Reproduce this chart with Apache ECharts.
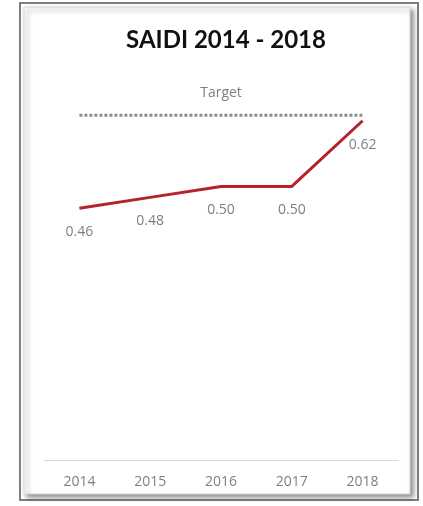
<!DOCTYPE html>
<html>
<head>
<meta charset="utf-8">
<script src="https://cdn.jsdelivr.net/npm/echarts@6/dist/echarts.min.js"></script>
<style>
  html, body { margin: 0; padding: 0; background: #fff; }
  #main { width: 423px; height: 506px; }
</style>
</head>
<body>
<div id="main"></div>
<script>
  const years = ["2014", "2015", "2016", "2017", "2018"];
  const saidi = [0.46, 0.48, 0.5, 0.5, 0.62];
  const target = [0.63, 0.63, 0.63, 0.63, 0.63];

  const myChart = echarts.init(document.getElementById("main"));
  myChart.setOption({
    animation: false,
    title: {
      text: "SAIDI 2014 - 2018",
      left: 221,
      textAlign: "center",
      top: 23,
      textStyle: { fontFamily: "Lato", fontWeight: "bold", fontSize: 24, color: "#111" },
    },
    graphic: [
      {
        type: "rect",
        z: -10,
        shape: { x: 20, y: 3, width: 398, height: 497 },
        style: { fill: "#fff", stroke: "#7f7f7f", lineWidth: 2 },
      },
      {
        type: "rect",
        z: -9,
        shape: { x: 24, y: 7, width: 386, height: 487 },
        style: {
          fill: "#fff",
          stroke: "#d6d6d6",
          lineWidth: 1,
          shadowBlur: 5,
          shadowColor: "rgba(0,0,0,0.45)",
          shadowOffsetX: 3,
          shadowOffsetY: 3,
        },
      },
    ],
    grid: { left: 44, right: 25, top: 77, bottom: 46 },
    xAxis: {
      type: "category",
      data: years,
      boundaryGap: true,
      axisLine: { lineStyle: { color: "#d9d9d9", width: 1 } },
      axisTick: { show: false },
      axisLabel: { color: "#7f7f7f", fontSize: 14, fontFamily: "Open Sans", margin: 15 },
    },
    yAxis: {
      type: "value",
      min: 0,
      max: 0.7,
      show: false,
      splitLine: { show: false },
    },
    series: [
      {
        type: "line",
        name: "Target",
        data: target,
        symbol: "circle",
        symbolSize: 0,
        showSymbol: true,
        lineStyle: { color: "#8c8c8c", width: 3, type: [3, 2] },
        label: {
          show: true,
          position: "top",
          distance: 15,
          color: "#7f7f7f",
          fontSize: 14,
          fontFamily: "Open Sans",
          formatter: (p) => (p.dataIndex === 2 ? "Target" : ""),
        },
      },
      {
        type: "line",
        name: "SAIDI",
        data: saidi,
        symbol: "circle",
        symbolSize: 0,
        showSymbol: true,
        lineStyle: { color: "#b5222a", width: 3 },
        label: {
          show: true,
          position: "bottom",
          distance: 17,
          color: "#7f7f7f",
          fontSize: 14,
          fontFamily: "Open Sans",
          formatter: (p) => p.value.toFixed(2),
        },
      },
    ],
  });
</script>
</body>
</html>
